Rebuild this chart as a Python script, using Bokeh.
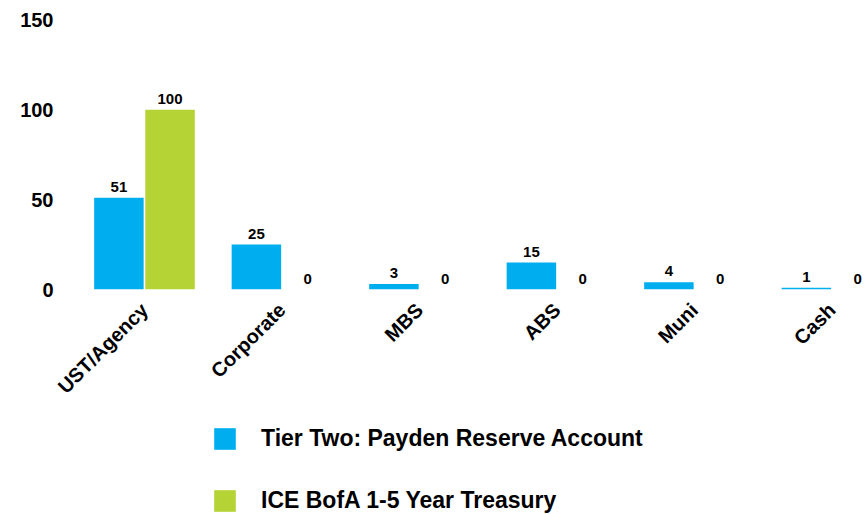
from math import pi
from bokeh.plotting import figure
from bokeh.layouts import column
from bokeh.models import (ColumnDataSource, Range1d, FixedTicker, LabelSet,
                          Legend, LegendItem)
from bokeh.core.properties import value
from bokeh.transform import dodge
from bokeh.embed import file_html
from bokeh.resources import INLINE

categories = ["UST/Agency", "Corporate", "MBS", "ABS", "Muni", "Cash"]
tier_two = [51, 25, 3, 15, 4, 1]
ice_bofa = [100, 0, 0, 0, 0, 0]
y_ticks = [0, 50, 100, 150]
series_names = ["Tier Two: Payden Reserve Account", "ICE BofA 1-5 Year Treasury"]
colors = ["#00AEEF", "#B5D334"]

FONT = "Liberation Sans"
idx = list(range(len(categories)))

src = ColumnDataSource(dict(
    x=idx,
    tier=tier_two,
    ice=ice_bofa,
    tier_lbl=[str(v) for v in tier_two],
    ice_lbl=[str(v) for v in ice_bofa],
))

p = figure(width=866, height=424, output_backend="svg", toolbar_location=None,
           x_range=Range1d(-0.618, 5.251), y_range=Range1d(0, 153.5),
           min_border_left=59, min_border_right=0, min_border_top=13,
           min_border_bottom=135)
p.outline_line_color = None
p.grid.visible = False

off = 0.186
bw = 0.36
p.vbar(x=dodge("x", -off), top="tier", width=bw, source=src,
       fill_color=colors[0], line_color=None)
p.vbar(x=dodge("x", off), top="ice", width=bw, source=src,
       fill_color=colors[1], line_color=None)

for col, lbl, o in (("tier", "tier_lbl", -off), ("ice", "ice_lbl", off)):
    ls = LabelSet(x=dodge("x", o), y=col, text=lbl, source=src,
                  text_align="center", text_baseline="alphabetic", y_offset=6,
                  text_font=value(FONT), text_font_size="15px",
                  text_font_style="bold", text_color="#000000")
    p.add_layout(ls)

# y axis
ya = p.yaxis[0]
ya.ticker = FixedTicker(ticks=y_ticks)
ya.axis_line_color = None
ya.major_tick_line_color = None
ya.minor_tick_line_color = None
ya.major_tick_out = 0
ya.major_label_standoff = 6
ya.major_label_text_font = FONT
ya.major_label_text_font_size = "20px"
ya.major_label_text_font_style = "bold"
ya.major_label_text_color = "#000000"

# x axis
xa = p.xaxis[0]
xa.ticker = FixedTicker(ticks=idx)
xa.major_label_overrides = {i: c for i, c in zip(idx, categories)}
xa.axis_line_color = None
xa.major_tick_line_color = None
xa.minor_tick_line_color = None
xa.major_tick_out = 0
xa.major_label_standoff = 17
xa.major_label_orientation = pi / 4
xa.major_label_text_font = FONT
xa.major_label_text_font_size = "20px"
xa.major_label_text_font_style = "bold"
xa.major_label_text_color = "#000000"

# legend figure (its renderers are hidden; only the legend shows)
lg = figure(width=866, height=90, output_backend="svg", toolbar_location=None,
            x_range=Range1d(100, 101), y_range=Range1d(0, 1),
            x_axis_location=None, y_axis_location=None, min_border=0)
lg.grid.visible = False
lg.outline_line_color = None
lg.border_fill_color = None
lg.background_fill_color = None
l1 = lg.vbar(x="x", top="tier", width=bw, source=src,
             fill_color=colors[0], line_color=None, visible=False)
l2 = lg.vbar(x="x", top="ice", width=bw, source=src,
             fill_color=colors[1], line_color=None, visible=False)
legend = Legend(items=[LegendItem(label=series_names[0], renderers=[l1]),
                       LegendItem(label=series_names[1], renderers=[l2])],
                location=(152, 0), orientation="vertical",
                glyph_width=27, glyph_height=27, label_standoff=23,
                spacing=35, padding=0, margin=0,
                border_line_color=None, background_fill_alpha=0,
                inactive_fill_alpha=0,
                label_text_font=FONT, label_text_font_size="23px",
                label_text_font_style="bold", label_text_color="#000000")
lg.add_layout(legend, "center")

layout = column(p, lg, spacing=0)
open("out.html", "w").write(file_html(layout, INLINE))
